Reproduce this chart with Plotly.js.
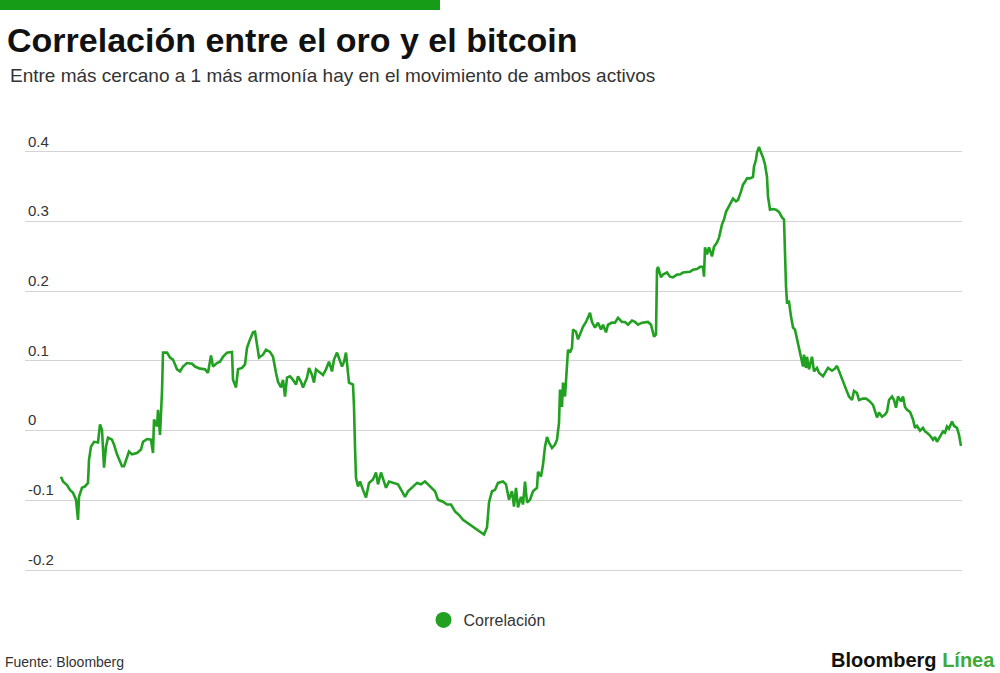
<!DOCTYPE html>
<html>
<head>
<meta charset="utf-8">
<script src="https://cdn.plot.ly/plotly-3.0.1.min.js"></script>
<style>
  html, body { margin: 0; padding: 0; background: #ffffff; }
  #chart { width: 1000px; height: 673px; }
</style>
</head>
<body>
<div id="chart"></div>
<script>
// Sesiones (eje temporal sin etiquetas en el original)
const sesiones = [
  0,2,6,9,12,15,17,18,21,24, 27,28,30,33,37,39,41,43,45,47, 51,53,56,58,61,63,66,68,71,76,
  80,82,86,90,92,93,96,97,99,101, 102,106,109,112,116,119,122,126,131,134, 139,144,147,150,
  152,156,159,162,166,169,171,172,175,177, 181,184,186,189,192,194,196,198,202,205,
  209,212,215,217,220,222,224,226,229,232, 235,237,240,242,246,248,251,253,255,258,
  262,265,268,271,273,276,278,281,283,285, 286,288,292,293,294,295,297,299,302,305, 308,
  312,315,317,320,322,325,328,332,337,341, 344,347,352,356,360,364,367,371,374,377,
  382,386,390,394,398,402,406,411,415,419, 423,426,428,431,434,437,442,445,448,451,
  453,455,457,460,462,464,466,469,
  472,476,477,480,482,484,486,488,491,494, 496,498,499,501,502,504,506,507,509,511,
  512,515,517,520,522,525,527,529,531,534, 537,540,542,545,547,551,554,557,561,564,
  567,571,574,577,581,584,587,590,592,593, 595,
  596,597,600,602,606,609,612,616,619,622, 626,629,632,636,639,642,643,644,646,648,
  651,653,656,658,661,663,665,667,670,672, 675,677,680,682,684,686,689,692,693,695,
  696,698,700,702,704,706,707,709,712,715, 718,721,723,724,725,726,728,730,732,734,
  736,738,
  742,743,745,746,748,751,753,756,758,762, 765,767,771,774,776,778,781,783,786,788,
  791,793,796,798,802,805,808,812,814,816, 818,821,824,826,828,831,833,835,837,840,
  842,844,846,849,852,854,856,859,862,864, 866,869,872,874,876,879,882,884,886,888,
  891,893,896,898,900
];

// Correlación oro / bitcoin
const correlacion = [
  -0.066,-0.073,-0.078,-0.085,-0.089,-0.099,-0.128,-0.095,-0.082,-0.080,
  -0.075,-0.042,-0.023,-0.016,-0.017,0.009,0.001,-0.053,-0.023,-0.010,
  -0.013,-0.020,-0.034,-0.042,-0.051,-0.051,-0.039,-0.030,-0.034,-0.032,
  -0.027,-0.016,-0.012,-0.013,-0.032,0.016,0.006,0.030,-0.006,0.056,
  0.112,0.112,0.105,0.102,0.088,0.085,0.092,0.097,0.096,0.092,
  0.089,0.088,0.083,0.108,
  0.092,0.097,0.099,0.106,0.112,0.112,0.113,0.073,0.062,0.088,
  0.090,0.095,0.119,0.131,0.141,0.142,0.123,0.105,0.109,0.116,
  0.113,0.106,0.083,0.070,0.062,0.073,0.049,0.076,0.078,0.073,
  0.066,0.078,0.070,0.062,0.076,0.090,0.080,0.069,0.088,0.085,
  0.080,0.088,0.099,0.085,0.102,0.112,0.105,0.092,0.099,0.112,
  0.097,0.069,0.066,0.034,-0.023,-0.068,-0.080,-0.073,-0.085,-0.096,
  -0.075,
  -0.070,-0.060,-0.077,-0.060,-0.070,-0.082,-0.073,-0.075,-0.077,-0.087,
  -0.095,-0.087,-0.080,-0.075,-0.077,-0.073,-0.077,-0.082,-0.087,-0.099,
  -0.102,-0.106,-0.106,-0.116,-0.121,-0.128,-0.132,-0.138,-0.142,-0.145,
  -0.149,-0.139,-0.103,-0.087,-0.085,-0.075,-0.073,-0.077,-0.099,-0.087,
  -0.109,-0.082,-0.110,-0.095,-0.106,-0.073,-0.103,-0.099,
  -0.087,-0.082,-0.059,-0.066,-0.049,-0.023,-0.009,-0.017,-0.025,-0.020,
  -0.013,0.011,0.059,0.034,0.069,0.049,0.088,0.116,0.112,0.119,
  0.145,0.142,0.131,0.141,0.149,0.156,0.162,0.169,0.156,0.148,
  0.155,0.145,0.152,0.141,0.152,0.155,0.155,0.162,0.156,0.156,
  0.152,0.158,0.156,0.152,0.155,0.155,0.156,0.152,0.142,0.135,
  0.138,
  0.231,0.235,0.220,0.224,0.227,0.221,0.220,0.224,0.224,0.227,
  0.228,0.228,0.231,0.232,0.235,0.235,0.221,0.263,0.253,0.263,
  0.250,0.264,0.270,0.277,0.296,0.303,0.314,0.320,0.329,0.333,
  0.329,0.331,0.343,0.353,0.357,0.362,0.362,0.364,0.379,0.389,
  0.399,0.407,0.399,0.392,0.382,0.364,0.336,0.317,0.318,0.317,
  0.314,0.306,0.303,0.235,0.207,0.184,0.185,0.164,0.148,0.145,
  0.131,0.119,
  0.092,0.109,0.090,0.106,0.088,0.106,0.085,0.090,0.083,0.078,
  0.085,0.090,0.086,0.089,0.093,0.085,0.073,0.066,0.056,0.049,
  0.044,0.057,0.054,0.044,0.046,0.046,0.043,0.037,0.027,0.019,
  0.026,0.020,0.023,0.027,0.044,0.049,0.044,0.033,0.049,0.042,
  0.049,0.034,0.030,0.027,0.016,0.004,0.007,0.000,0.004,-0.001,
  -0.003,-0.007,-0.013,-0.009,-0.016,-0.009,-0.001,-0.003,0.006,0.003,
  0.013,0.007,0.004,-0.006,-0.022
];

const ejeYValores = [-0.2, -0.1, 0, 0.1, 0.2, 0.3, 0.4];
const ejeYEtiquetas = ['-0.2', '-0.1', '0', '0.1', '0.2', '0.3', '0.4'];

const titulo = 'Correlación entre el oro y el bitcoin';
const subtitulo = 'Entre más cercano a 1 más armonía hay en el movimiento de ambos activos';
const nombreSerie = 'Correlación';
const fuente = 'Fuente: Bloomberg';

const VERDE = '#22a022';
const FONT = 'Liberation Sans, Arial, Helvetica, sans-serif';

const traces = [
  {
    type: 'scatter', mode: 'lines',
    x: sesiones, y: correlacion,
    line: { color: VERDE, width: 2.6 },
    showlegend: false, hoverinfo: 'skip'
  },
  {
    type: 'scatter', mode: 'markers',
    x: [null], y: [null],
    name: nombreSerie,
    marker: { color: VERDE, size: 20, symbol: 'circle' },
    showlegend: true
  }
];

// plot area: left 25, right 962, top 131, bottom 577
const PL = 25, PR = 962, PT = 131, PB = 577;
const PW = PR - PL, PH = PB - PT;
const px = v => (v - PL) / PW;
const py = v => (PB - v) / PH;

const layout = {
  width: 1000, height: 673,
  margin: { l: PL, r: 1000 - PR, t: PT, b: 673 - PB, pad: 0 },
  paper_bgcolor: '#ffffff', plot_bgcolor: '#ffffff',
  font: { family: FONT, color: '#333333' },
  title: {
    text: '<b>' + titulo + '</b>',
    font: { family: FONT, size: 34, color: '#111111' },
    x: 7 / 1000, xanchor: 'left', xref: 'container',
    y: 1 - 40 / 673, yanchor: 'middle', yref: 'container'
  },
  xaxis: {
    range: [-36, 901],
    visible: false, showgrid: false, zeroline: false, fixedrange: true
  },
  yaxis: {
    range: [-0.21, 0.43],
    tickmode: 'array', tickvals: ejeYValores, ticktext: ejeYEtiquetas,
    ticklabelposition: 'inside top',
    ticks: '', showline: false, zeroline: false,
    showgrid: true, gridcolor: '#d4d4d4', gridwidth: 1,
    tickfont: { family: FONT, size: 15, color: '#333333' },
    fixedrange: true
  },
  legend: {
    orientation: 'h', x: px(487), xanchor: 'center',
    y: py(620), yanchor: 'middle',
    font: { family: FONT, size: 16, color: '#333333' },
    bgcolor: 'rgba(0,0,0,0)'
  },
  shapes: [
    {
      type: 'rect', xref: 'paper', yref: 'paper',
      x0: px(0), x1: px(440), y0: py(0), y1: py(10),
      fillcolor: '#179c17', line: { width: 0 }
    }
  ],
  annotations: [
    {
      text: subtitulo, xref: 'paper', yref: 'paper',
      x: px(8), y: py(75), xanchor: 'left', yanchor: 'middle',
      showarrow: false, font: { family: FONT, size: 19, color: '#333333' }
    },
    {
      text: fuente, xref: 'paper', yref: 'paper',
      x: px(3), y: py(662), xanchor: 'left', yanchor: 'middle',
      showarrow: false, font: { family: FONT, size: 14, color: '#333333' }
    },
    {
      text: '<b>Bloomberg</b> <b><span style="color:#3faa35">Línea</span></b>',
      xref: 'paper', yref: 'paper',
      x: px(997), y: py(660), xanchor: 'right', yanchor: 'middle',
      showarrow: false, font: { family: FONT, size: 20, color: '#111111' }
    }
  ]
};

Plotly.newPlot('chart', traces, layout, { displayModeBar: false, staticPlot: true });
</script>
</body>
</html>
